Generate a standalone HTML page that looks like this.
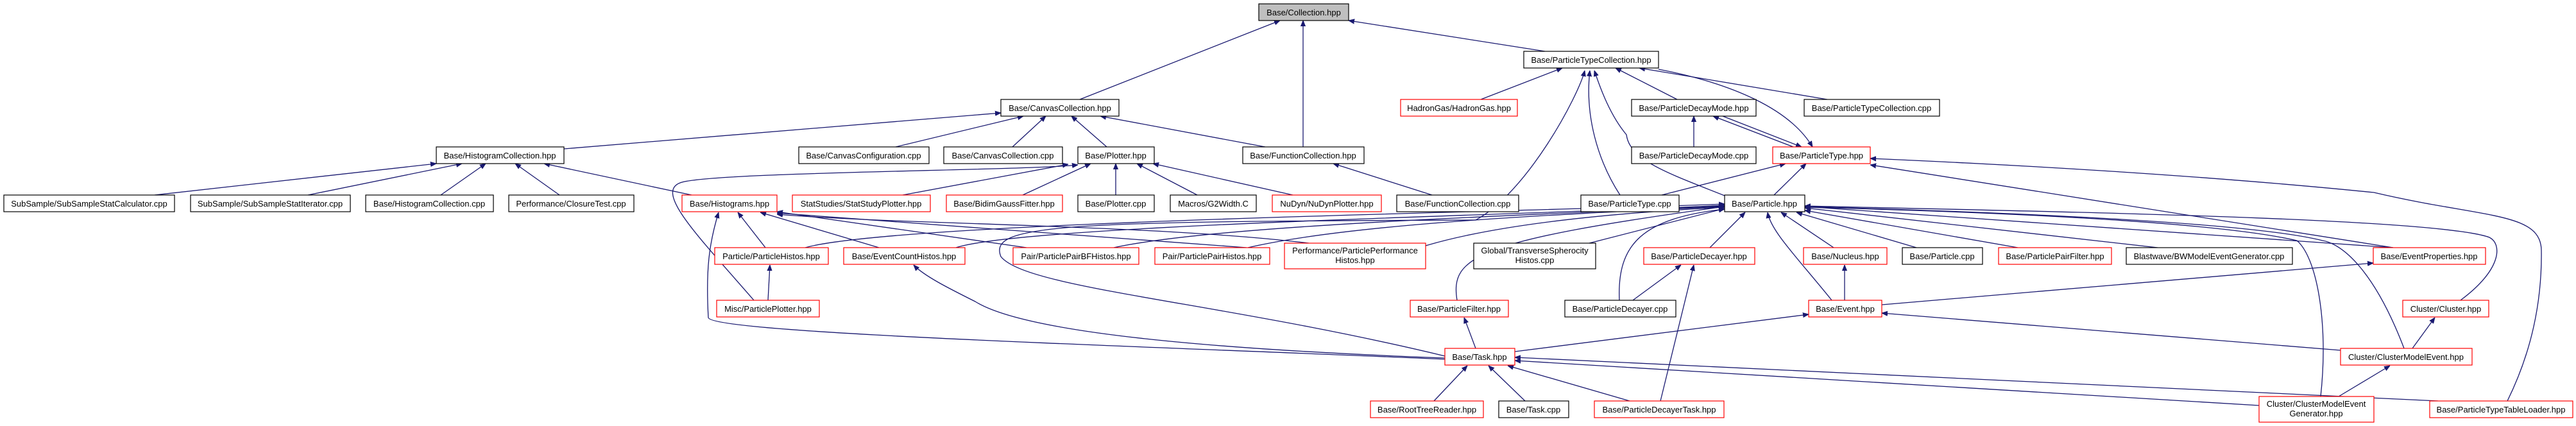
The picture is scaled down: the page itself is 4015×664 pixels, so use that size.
<!DOCTYPE html>
<html><head><meta charset="utf-8"><style>
html,body{margin:0;padding:0;background:#fff;}
svg{display:block;}
text{font-family:"Liberation Sans",Helvetica,sans-serif;font-size:13px;fill:#000;}
.e{fill:none;stroke:#191970;stroke-width:1.3;}
.b{fill:#fff;stroke:#000;stroke-width:1.2;}
.r{fill:#fff;stroke:#ff0000;stroke-width:1.2;}
</style></head><body>
<svg width="4015" height="664" viewBox="0 0 4015 664" xmlns="http://www.w3.org/2000/svg">
<defs><marker id="a" viewBox="0 0 10 10" refX="10" refY="5" markerWidth="9" markerHeight="9" markerUnits="userSpaceOnUse" orient="auto"><path d="M0,1 L10,5 L0,9 z" fill="#191970" stroke="#191970"/></marker></defs>
<g class="e" marker-end="url(#a)">
<path d="M1683,155 L1995,32"/>
<path d="M2031,229 L2031,32"/>
<path d="M2408,80 L2102,32"/>
<path d="M879,232 L1560,176"/>
<path d="M1396,229 L1595,181"/>
<path d="M1578,229 L1630,181"/>
<path d="M1725,229 L1670,181"/>
<path d="M1972,229 L1715,181"/>
<path d="M241,304 L680,255"/>
<path d="M480,304 L720,255"/>
<path d="M687,304 L757,255"/>
<path d="M872,304 L803,255"/>
<path d="M1078,304 L848,255"/>
<path d="M1407,304 L1665,256"/>
<path d="M1594,304 L1700,255"/>
<path d="M1739,304 L1739,255"/>
<path d="M1866,304 L1772,255"/>
<path d="M2015,304 L1797,255"/>
<path d="M1175,468 C1090,370 1020,300 1060,285 C1100,268 1600,266 1680,257"/>
<path d="M2232,304 L2078,255"/>
<path d="M2308,155 L2435,106"/>
<path d="M2614,155 L2518,106"/>
<path d="M2848,155 L2555,106"/>
<path d="M2585,108 C2700,130 2790,170 2825,229"/>
<path d="M2640,229 L2640,181"/>
<path d="M2795,229 L2670,181"/>
<path d="M2685,181 L2808,229"/>
<path d="M2525,304 C2490,250 2470,180 2478,110"/>
<path d="M2590,304 L2783,255"/>
<path d="M2688,305 C2600,270 2540,250 2535,210 C2510,180 2495,140 2485,110"/>
<path d="M2765,304 L2815,255"/>
<path d="M2252,555 C1900,470 1600,450 1560,400 C1540,350 1650,345 2300,343 C2380,300 2460,150 2470,110"/>
<path d="M1193,386 L1150,331"/>
<path d="M1370,386 L1185,331"/>
<path d="M1600,386 L1211,330"/>
<path d="M1943,386 L1211,332"/>
<path d="M2040,379 C1800,350 1400,350 1211,334"/>
<path d="M2252,560 C1800,540 1110,520 1104,495 C1100,420 1105,380 1120,331"/>
<path d="M1197,468 L1200,413"/>
<path d="M1255,386 C1400,345 2400,330 2688,318"/>
<path d="M1490,386 C1600,350 2400,335 2688,320"/>
<path d="M1736,386 C1900,350 2400,335 2688,321"/>
<path d="M1945,386 C2100,350 2400,335 2688,322"/>
<path d="M2222,383 C2350,345 2550,330 2688,323"/>
<path d="M2477,379 L2688,325"/>
<path d="M2271,468 C2260,400 2300,375 2688,322"/>
<path d="M2665,386 L2720,331"/>
<path d="M2524,468 C2520,380 2560,340 2688,326"/>
<path d="M2855,468 C2800,400 2760,360 2755,331"/>
<path d="M2858,386 L2776,331"/>
<path d="M2987,386 L2800,331"/>
<path d="M3145,386 L2813,328"/>
<path d="M3363,386 L2813,324"/>
<path d="M3730,386 L2813,322"/>
<path d="M3835,468 C3900,420 3900,380 3880,370 C3800,340 3200,330 2813,321"/>
<path d="M3747,543 C3700,420 3650,380 3620,375 C3500,345 3100,330 2813,322"/>
<path d="M3617,618 C3630,500 3610,400 3580,375 C3450,345 3100,330 2813,323"/>
<path d="M2545,468 L2620,413"/>
<path d="M2588,625 L2640,413"/>
<path d="M2875,468 L2875,413"/>
<path d="M2361,548 L2819,490"/>
<path d="M2933,475 L3699,410"/>
<path d="M3648,546 L2933,488"/>
<path d="M3760,543 L3795,495"/>
<path d="M3645,618 L3725,570"/>
<path d="M2300,543 L2282,495"/>
<path d="M2235,625 L2287,570"/>
<path d="M2377,625 L2320,570"/>
<path d="M2540,625 L2350,570"/>
<path d="M3521,632 L2361,562"/>
<path d="M3800,625 L2361,557"/>
<path d="M2252,558 C1900,545 1600,520 1520,470 C1480,450 1440,430 1424,413"/>
<path d="M3730,386 L2915,257"/>
<path d="M3908,625 C3950,540 3962,460 3961,390 C3960,330 3870,340 3700,300 C3400,270 3100,255 2915,247"/>
</g>
<g>
<rect x="1962" y="6" width="140" height="26" fill="#bfbfbf" stroke="#000" stroke-width="1.2"/><text x="2032" y="24" text-anchor="middle">Base/Collection.hpp</text>
<rect class="b" x="2375" y="80" width="210" height="26"/><text x="2480" y="98" text-anchor="middle">Base/ParticleTypeCollection.hpp</text>
<rect class="b" x="1560" y="155" width="184" height="26"/><text x="1652" y="173" text-anchor="middle">Base/CanvasCollection.hpp</text>
<rect class="r" x="2183" y="155" width="182" height="26"/><text x="2274" y="173" text-anchor="middle">HadronGas/HadronGas.hpp</text>
<rect class="b" x="2543" y="155" width="194" height="26"/><text x="2640" y="173" text-anchor="middle">Base/ParticleDecayMode.hpp</text>
<rect class="b" x="2812" y="155" width="211" height="26"/><text x="2917" y="173" text-anchor="middle">Base/ParticleTypeCollection.cpp</text>
<rect class="b" x="680" y="229" width="199" height="26"/><text x="779" y="247" text-anchor="middle">Base/HistogramCollection.hpp</text>
<rect class="b" x="1245" y="229" width="203" height="26"/><text x="1346" y="247" text-anchor="middle">Base/CanvasConfiguration.cpp</text>
<rect class="b" x="1471" y="229" width="185" height="26"/><text x="1563" y="247" text-anchor="middle">Base/CanvasCollection.cpp</text>
<rect class="b" x="1680" y="229" width="119" height="26"/><text x="1739" y="247" text-anchor="middle">Base/Plotter.hpp</text>
<rect class="b" x="1937" y="229" width="189" height="26"/><text x="2031" y="247" text-anchor="middle">Base/FunctionCollection.hpp</text>
<rect class="b" x="2543" y="229" width="194" height="26"/><text x="2640" y="247" text-anchor="middle">Base/ParticleDecayMode.cpp</text>
<rect class="r" x="2763" y="229" width="152" height="26"/><text x="2839" y="247" text-anchor="middle">Base/ParticleType.hpp</text>
<rect class="b" x="6" y="304" width="266" height="26"/><text x="139" y="322" text-anchor="middle">SubSample/SubSampleStatCalculator.cpp</text>
<rect class="b" x="297" y="304" width="249" height="26"/><text x="421" y="322" text-anchor="middle">SubSample/SubSampleStatIterator.cpp</text>
<rect class="b" x="570" y="304" width="199" height="26"/><text x="669" y="322" text-anchor="middle">Base/HistogramCollection.cpp</text>
<rect class="b" x="793" y="304" width="195" height="26"/><text x="890" y="322" text-anchor="middle">Performance/ClosureTest.cpp</text>
<rect class="r" x="1063" y="304" width="148" height="26"/><text x="1137" y="322" text-anchor="middle">Base/Histograms.hpp</text>
<rect class="r" x="1235" y="304" width="215" height="26"/><text x="1342" y="322" text-anchor="middle">StatStudies/StatStudyPlotter.hpp</text>
<rect class="r" x="1475" y="304" width="181" height="26"/><text x="1565" y="322" text-anchor="middle">Base/BidimGaussFitter.hpp</text>
<rect class="b" x="1680" y="304" width="119" height="26"/><text x="1739" y="322" text-anchor="middle">Base/Plotter.cpp</text>
<rect class="b" x="1824" y="304" width="134" height="26"/><text x="1891" y="322" text-anchor="middle">Macros/G2Width.C</text>
<rect class="r" x="1983" y="304" width="170" height="26"/><text x="2068" y="322" text-anchor="middle">NuDyn/NuDynPlotter.hpp</text>
<rect class="b" x="2177" y="304" width="190" height="26"/><text x="2272" y="322" text-anchor="middle">Base/FunctionCollection.cpp</text>
<rect class="b" x="2464" y="304" width="153" height="26"/><text x="2540" y="322" text-anchor="middle">Base/ParticleType.cpp</text>
<rect class="b" x="2688" y="304" width="125" height="26"/><text x="2750" y="322" text-anchor="middle">Base/Particle.hpp</text>
<rect class="r" x="1114" y="386" width="177" height="26"/><text x="1202" y="404" text-anchor="middle">Particle/ParticleHistos.hpp</text>
<rect class="r" x="1315" y="386" width="189" height="26"/><text x="1409" y="404" text-anchor="middle">Base/EventCountHistos.hpp</text>
<rect class="r" x="1579" y="386" width="196" height="26"/><text x="1677" y="404" text-anchor="middle">Pair/ParticlePairBFHistos.hpp</text>
<rect class="r" x="1800" y="386" width="179" height="26"/><text x="1889" y="404" text-anchor="middle">Pair/ParticlePairHistos.hpp</text>
<rect class="r" x="2002" y="379" width="220" height="40"/><text x="2112" y="395" text-anchor="middle">Performance/ParticlePerformance</text><text x="2112" y="410" text-anchor="middle">Histos.hpp</text>
<rect class="b" x="2297" y="379" width="190" height="40"/><text x="2392" y="395" text-anchor="middle">Global/TransverseSpherocity</text><text x="2392" y="410" text-anchor="middle">Histos.cpp</text>
<rect class="r" x="2562" y="386" width="173" height="26"/><text x="2648" y="404" text-anchor="middle">Base/ParticleDecayer.hpp</text>
<rect class="r" x="2811" y="386" width="130" height="26"/><text x="2876" y="404" text-anchor="middle">Base/Nucleus.hpp</text>
<rect class="b" x="2965" y="386" width="125" height="26"/><text x="3027" y="404" text-anchor="middle">Base/Particle.cpp</text>
<rect class="r" x="3115" y="386" width="176" height="26"/><text x="3203" y="404" text-anchor="middle">Base/ParticlePairFilter.hpp</text>
<rect class="b" x="3314" y="386" width="259" height="26"/><text x="3443" y="404" text-anchor="middle">Blastwave/BWModelEventGenerator.cpp</text>
<rect class="r" x="3699" y="386" width="175" height="26"/><text x="3786" y="404" text-anchor="middle">Base/EventProperties.hpp</text>
<rect class="r" x="1117" y="468" width="160" height="26"/><text x="1197" y="486" text-anchor="middle">Misc/ParticlePlotter.hpp</text>
<rect class="r" x="2198" y="468" width="153" height="26"/><text x="2274" y="486" text-anchor="middle">Base/ParticleFilter.hpp</text>
<rect class="b" x="2439" y="468" width="173" height="26"/><text x="2525" y="486" text-anchor="middle">Base/ParticleDecayer.cpp</text>
<rect class="r" x="2819" y="468" width="114" height="26"/><text x="2876" y="486" text-anchor="middle">Base/Event.hpp</text>
<rect class="r" x="3745" y="468" width="134" height="26"/><text x="3812" y="486" text-anchor="middle">Cluster/Cluster.hpp</text>
<rect class="r" x="2252" y="543" width="109" height="26"/><text x="2306" y="561" text-anchor="middle">Base/Task.hpp</text>
<rect class="r" x="3648" y="543" width="205" height="26"/><text x="3750" y="561" text-anchor="middle">Cluster/ClusterModelEvent.hpp</text>
<rect class="r" x="2136" y="625" width="176" height="26"/><text x="2224" y="643" text-anchor="middle">Base/RootTreeReader.hpp</text>
<rect class="b" x="2336" y="625" width="109" height="26"/><text x="2390" y="643" text-anchor="middle">Base/Task.cpp</text>
<rect class="r" x="2485" y="625" width="202" height="26"/><text x="2586" y="643" text-anchor="middle">Base/ParticleDecayerTask.hpp</text>
<rect class="r" x="3521" y="618" width="179" height="40"/><text x="3610" y="634" text-anchor="middle">Cluster/ClusterModelEvent</text><text x="3610" y="649" text-anchor="middle">Generator.hpp</text>
<rect class="r" x="3787" y="625" width="223" height="26"/><text x="3898" y="643" text-anchor="middle">Base/ParticleTypeTableLoader.hpp</text>
</g>
</svg>
</body></html>
